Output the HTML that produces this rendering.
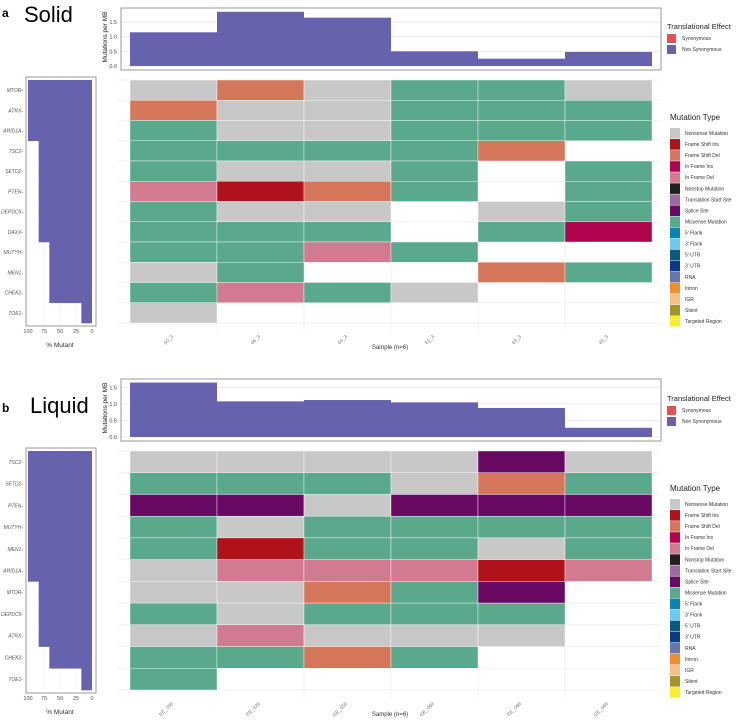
<!DOCTYPE html>
<html><head><meta charset="utf-8"><style>
html,body{margin:0;padding:0;background:#fff;width:741px;height:725px;overflow:hidden}
svg{display:block;font-family:"Liberation Sans",sans-serif}
</style></head><body>
<svg id="fig" width="741" height="725" viewBox="0 0 741 725" xmlns="http://www.w3.org/2000/svg">
<text x="2" y="17" font-size="12" font-weight="bold">a</text>
<text x="24" y="22" font-size="22">Solid</text>
<text x="2" y="412" font-size="12" font-weight="bold">b</text>
<text x="30" y="413" font-size="22">Liquid</text>
</svg>
<script>
const typeNames=["Nonsense Mutation","Frame Shift Ins","Frame Shift Del","In Frame Ins","In Frame Del","Nonstop Mutation","Translation Start Site","Splice Site","Missense Mutation","5' Flank","3' Flank","5' UTR","3' UTR","RNA","Intron","IGR","Silent","Targeted Region"];
const typeColors=["#c8c8c8","#b0121a","#d4775a","#b0044f","#d27a8f","#231f20","#9c6aa0","#680a64","#5aa98c","#0a84b4","#6ccaf0","#0a5a7c","#0a3a88","#6676ae","#f08c2c","#f6be88","#a0962a","#fcec2c"];
const codeMap={N:0,I:1,D:2,J:3,F:4,S:7,M:8};
const solidSamples=["50_3","46_3","44_3","41_3","43_3","45_3"];
const solidGenes=["MTOR","ATRX","ARID1A","TSC2","SETD2","PTEN","DEPDC5","DAXX","MUTYH","MEN1","CHEK2","TOE1"];
const solidGrid=["NDNMMN","DNNMMM","MNNMMM","MMMMD_","MNNM_M","FIDM_M","MNN_NM","MMM_MJ","MMFM__","NM__DM","MFMN__","N_____"];
const solidTmb=[1.15,1.85,1.65,0.5,0.25,0.48];
const liquidSamples=["FE_059","FE_029","GE_059","GE_069","FE_069","GE_049"];
const liquidGenes=["TSC2","SETD2","PTEN","MUTYH","MEN1","ARID1A","MTOR","DEPDC5","ATRX","CHEK2","TOE1"];
const liquidGrid=["NNNNSN","MMMNDM","SSNSSS","MNMMMM","MIMMNM","NFFFIF","NNDMS_","MNMMM_","NFNNN_","MMDM__","M_____"];
const liquidTmb=[1.65,1.08,1.12,1.05,0.88,0.28];
const tmbTicks=[0,0.5,1.0,1.5];
const pctTicks=[100,75,50,25,0];

const svg=document.getElementById('fig');
const NS="http://www.w3.org/2000/svg";
function mk(tag,attrs,parent,txt){const e=document.createElementNS(NS,tag);for(const k in attrs)e.setAttribute(k,attrs[k]);if(txt!==undefined)e.textContent=txt;(parent||svg).appendChild(e);return e;}

function panel(cfg){
  const g=mk('g',{});
  
  
  const x0=130,x1=652,n=cfg.samples.length,cw=(x1-x0)/n;
  const xs=i=>x0+i*cw;
  // TMB panel
  const tb=mk('rect',{x:121,y:cfg.tTop,width:540,height:cfg.tBot-cfg.tTop+4,fill:'#fff',stroke:'#999','stroke-width':1},g);
  
  
  const ty=v=>cfg.tZero-v*cfg.tScale;
  tmbTicks.forEach(t=>{
    mk('line',{x1:122,x2:660,y1:ty(t),y2:ty(t),stroke:'#e6e6e6','stroke-width':0.8},g);
    const l=mk('text',{x:117,y:ty(t)+2,'font-size':5.5,'text-anchor':'end',fill:'#444'},g,t.toFixed(1));
    
    
  });
  cfg.tmb.forEach((v,i)=>{
    const r=mk('rect',{x:xs(i),y:ty(v),width:cw,height:v*cfg.tScale,fill:'#6662ae'},g);
    
    
  });
  const yt=mk('text',{transform:`translate(107,${(cfg.tTop+cfg.tBot)/2}) rotate(-90)`,'font-size':6.5,'text-anchor':'middle',fill:'#222'},g,'Mutations per MB');
  
  
  // heatmap
  const rows=cfg.genes.length,rh=(cfg.hBot-cfg.hTop)/rows;
  for(let j=0;j<=rows;j++)mk('line',{x1:118,x2:660,y1:cfg.hTop+j*rh,y2:cfg.hTop+j*rh,stroke:'#eee','stroke-width':0.8},g);
  for(let i=1;i<n;i++)mk('line',{x1:xs(i),x2:xs(i),y1:cfg.hTop,y2:cfg.hBot+8,stroke:'#eee','stroke-width':0.8},g);
  cfg.grid.forEach((row,j)=>{
    [...row].forEach((c,i)=>{
      if(c==='_')return;
      const r=mk('rect',{x:xs(i),y:cfg.hTop+j*rh,width:cw,height:rh,fill:typeColors[codeMap[c]],stroke:'#fff','stroke-width':0.4},g);
      
      
    });
  });
  cfg.samples.forEach((s,i)=>{
    const cx=xs(i)+cw/2,cy=cfg.hBot+14;
    const l=mk('text',{transform:`translate(${cx},${cy}) rotate(-45)`,'font-size':5,'text-anchor':'end',fill:'#777'},g,s);
    
    
  });
  const xt=mk('text',{x:390,y:cfg.hBot+26,'font-size':6,'text-anchor':'middle',fill:'#333'},g,'Sample (n=6)');
  
  
  // left pct panel
  const lf=mk('rect',{x:26,y:cfg.hTop-3,width:70,height:cfg.hBot-cfg.hTop+6,fill:'#fff',stroke:'#999','stroke-width':1},g);
  
  
  const px=p=>92-p*0.64;
  pctTicks.forEach(p=>{
    mk('line',{x1:px(p),x2:px(p),y1:cfg.hTop-2,y2:cfg.hBot+2,stroke:'#eee','stroke-width':0.6},g);
    const l=mk('text',{x:px(p),y:cfg.hBot+10,'font-size':5.5,'text-anchor':'middle',fill:'#555'},g,String(p));
    
    
  });
  cfg.grid.forEach((row,j)=>{
    const cnt=[...row].filter(c=>c!=='_').length,p=cnt/n*100;
    const r=mk('rect',{x:px(p),y:cfg.hTop+j*rh,width:p*0.64,height:rh+0.3,fill:'#6662ae'},g);
    
    
    const l=mk('text',{x:23,y:cfg.hTop+j*rh+rh/2+2,'font-size':5,'text-anchor':'end','font-style':'italic',fill:'#555'},g,cfg.genes[j]+'-');
    
    
  });
  const pt=mk('text',{x:60,y:cfg.hBot+24,'font-size':6.5,'text-anchor':'middle',fill:'#333'},g,'% Mutant');
  
  
  // legends
  const t1=mk('text',{x:667,y:cfg.leg1,'font-size':7.5,fill:'#222'},g,'Translational Effect');
  
  
  [["Synonymous","#ef4d55"],["Non Synonymous","#6662ae"]].forEach((e,k)=>{
    const y=cfg.leg1+5+k*11;
    const r=mk('rect',{x:667,y:y,width:9,height:9,fill:e[1]},g);
    
    
    const l=mk('text',{x:682,y:y+6,'font-size':5,fill:'#333'},g,e[0]);
    
    
  });
  const t2=mk('text',{x:670,y:cfg.leg2,'font-size':8,fill:'#222'},g,'Mutation Type');
  
  
  typeNames.forEach((nm,k)=>{
    const y=cfg.leg2+8+k*11.06;
    const r=mk('rect',{x:670,y:y,width:10,height:10.6,fill:typeColors[k]},g);
    
    
    const l=mk('text',{x:685,y:y+7,'font-size':5,fill:'#333'},g,nm);
    
    
  });
}
panel({name:'solid',samples:solidSamples,genes:solidGenes,grid:solidGrid,tmb:solidTmb,tTop:8,tBot:66,tZero:66,tScale:29.3,hTop:80,hBot:323,leg1:29,leg2:120});
panel({name:'liquid',samples:liquidSamples,genes:liquidGenes,grid:liquidGrid,tmb:liquidTmb,tTop:379,tBot:437,tZero:437,tScale:33,hTop:451,hBot:690,leg1:401,leg2:491});
</script>
</body></html>
